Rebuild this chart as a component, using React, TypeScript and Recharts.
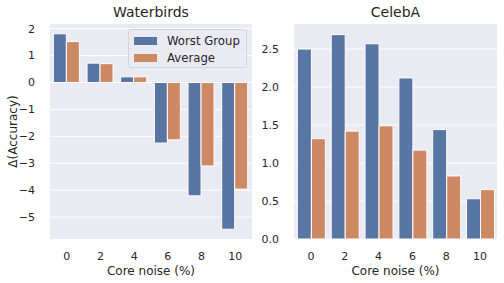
import React from 'react';
import { BarChart, Bar, XAxis, YAxis, CartesianGrid } from 'recharts';

const categories = ['0', '2', '4', '6', '8', '10'];
const waterWorst = [1.81, 0.72, 0.21, -2.25, -4.21, -5.45];
const waterAvg = [1.52, 0.7, 0.21, -2.13, -3.1, -3.96];
const celebWorst = [2.5, 2.69, 2.57, 2.12, 1.44, 0.53];
const celebAvg = [1.32, 1.42, 1.49, 1.17, 0.83, 0.65];
const waterTicks = [2, 1, 0, -1, -2, -3, -4, -5];
const celebTicks = [0, 0.5, 1, 1.5, 2, 2.5];

const BLUE = '#5975A4';
const ORANGE = '#CC8963';
const BG = '#EAEAF2';
const TXT = '#262626';
const FONT = 'DejaVu Sans';

const waterData = categories.map((c, i) => ({ c, worst: waterWorst[i], avg: waterAvg[i] }));
const celebData = categories.map((c, i) => ({ c, worst: celebWorst[i], avg: celebAvg[i] }));

const fmtMinus = (v: number) => (v < 0 ? '\u2212' + Math.abs(v) : String(v));

const legendItems = [
  { name: 'Worst Group', color: BLUE },
  { name: 'Average', color: ORANGE },
];

const LegendBox = () => (
  <div
    style={{
      position: 'absolute',
      left: 128,
      top: 29,
      width: 119,
      height: 39,
      boxSizing: 'border-box',
      border: '1px solid #d3d3da',
      borderRadius: 3,
      background: 'rgba(234,234,242,0.8)',
      fontFamily: FONT,
      fontSize: 11.7,
      color: TXT,
      padding: '3px 0 0 5px',
    }}
  >
    {legendItems.map((e) => (
      <div key={e.name} style={{ display: 'flex', alignItems: 'center', height: 16.5 }}>
        <span style={{ display: 'inline-block', width: 23, height: 8, background: e.color, marginRight: 10 }} />
        <span>{e.name}</span>
      </div>
    ))}
  </div>
);

const title = (text: string, cx: number) => (
  <div
    style={{
      position: 'absolute',
      left: cx - 80,
      width: 160,
      top: 4,
      textAlign: 'center',
      fontFamily: FONT,
      fontSize: 14,
      color: TXT,
      lineHeight: '17px',
    }}
  >
    {text}
  </div>
);

const tickStyle = { fontFamily: FONT, fontSize: 11, fill: TXT };
const axisLabelStyle = { fontFamily: FONT, fontSize: 12, fill: TXT };

export default function App() {
  return (
    <div style={{ position: 'absolute', left: 0, top: 0, width: 504, height: 283, background: '#fff' }}>
      <div style={{ position: 'absolute', left: 0, top: 0 }}>
        <BarChart
          width={252}
          height={283}
          data={waterData}
          margin={{ top: 24, right: 0, bottom: 0, left: 0 }}
          barCategoryGap="10%"
          barGap={0}
        >
          <CartesianGrid vertical={false} stroke="#ffffff" strokeWidth={1} fill={BG} horizontalValues={waterTicks} />
          <XAxis
            dataKey="c"
            axisLine={false}
            tickLine={false}
            height={44}
            tick={tickStyle}
            tickMargin={7}
            label={{ value: 'Core noise (%)', position: 'insideBottom', offset: 8, style: axisLabelStyle }}
          />
          <YAxis
            type="number"
            domain={[-5.813, 2.173]}
            ticks={waterTicks}
            tickFormatter={fmtMinus}
            axisLine={false}
            tickLine={false}
            width={50}
            tick={tickStyle}
            tickMargin={9}
            allowDataOverflow
            label={{ value: '\u0394(Accuracy)', angle: -90, position: 'insideLeft', offset: 13, style: { ...axisLabelStyle, textAnchor: 'middle' } }}
          />
          <Bar dataKey="worst" name="Worst Group" fill={BLUE} stroke="#ffffff" strokeWidth={1} isAnimationActive={false} />
          <Bar dataKey="avg" name="Average" fill={ORANGE} stroke="#ffffff" strokeWidth={1} isAnimationActive={false} />
        </BarChart>
      </div>
      <div style={{ position: 'absolute', left: 252, top: 0 }}>
        <BarChart
          width={252}
          height={283}
          data={celebData}
          margin={{ top: 24, right: 7, bottom: 0, left: 0 }}
          barCategoryGap="10%"
          barGap={0}
        >
          <CartesianGrid vertical={false} stroke="#ffffff" strokeWidth={1} fill={BG} horizontalValues={celebTicks} />
          <XAxis
            dataKey="c"
            axisLine={false}
            tickLine={false}
            height={44}
            tick={tickStyle}
            tickMargin={7}
            label={{ value: 'Core noise (%)', position: 'insideBottom', offset: 8, style: axisLabelStyle }}
          />
          <YAxis
            type="number"
            domain={[0, 2.83]}
            ticks={celebTicks}
            tickFormatter={(v: number) => v.toFixed(1)}
            axisLine={false}
            tickLine={false}
            width={42}
            tick={tickStyle}
            tickMargin={9}
            allowDataOverflow
          />
          <Bar dataKey="worst" name="Worst Group" fill={BLUE} stroke="#ffffff" strokeWidth={1} isAnimationActive={false} />
          <Bar dataKey="avg" name="Average" fill={ORANGE} stroke="#ffffff" strokeWidth={1} isAnimationActive={false} />
        </BarChart>
      </div>
      {title('Waterbirds', 151)}
      {title('CelebA', 395.5)}
      <LegendBox />
    </div>
  );
}
